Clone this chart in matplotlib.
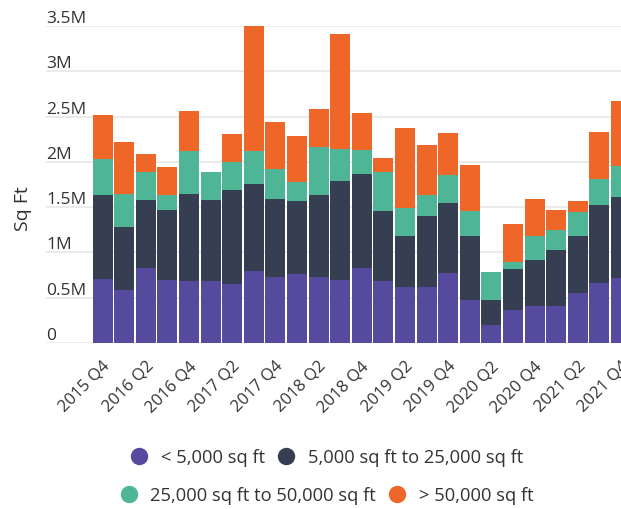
import numpy as np
import matplotlib.pyplot as plt
import matplotlib.transforms as mtransforms
from matplotlib.lines import Line2D

plt.rcParams['font.family'] = ['Open Sans', 'DejaVu Sans']

# Quarters from 2015 Q4 to 2021 Q4
quarters = ['2015 Q4',
            '2016 Q1', '2016 Q2', '2016 Q3', '2016 Q4',
            '2017 Q1', '2017 Q2', '2017 Q3', '2017 Q4',
            '2018 Q1', '2018 Q2', '2018 Q3', '2018 Q4',
            '2019 Q1', '2019 Q2', '2019 Q3', '2019 Q4',
            '2020 Q1', '2020 Q2', '2020 Q3', '2020 Q4',
            '2021 Q1', '2021 Q2', '2021 Q3', '2021 Q4']

# Values in million sq ft
small = [0.71, 0.585, 0.83, 0.695, 0.684, 0.684, 0.651, 0.795, 0.728, 0.762,
         0.728, 0.695, 0.828, 0.684, 0.618, 0.618, 0.773, 0.475, 0.20, 0.364,
         0.408, 0.408, 0.552, 0.662, 0.717]
medium = [0.92, 0.695, 0.75, 0.773, 0.96, 0.894, 1.038, 0.96, 0.861, 0.805,
          0.906, 1.093, 1.037, 0.773, 0.563, 0.784, 0.769, 0.706, 0.275, 0.453,
          0.508, 0.618, 0.629, 0.861, 0.894]
large = [0.40, 0.365, 0.31, 0.166, 0.475, 0.31, 0.309, 0.365, 0.331, 0.21,
         0.533, 0.353, 0.265, 0.43, 0.309, 0.232, 0.312, 0.276, 0.309, 0.077,
         0.265, 0.221, 0.265, 0.287, 0.343]
xlarge = [0.49, 0.575, 0.20, 0.309, 0.44, 0.0, 0.309, 1.38, 0.52, 0.508,
          0.416, 1.27, 0.409, 0.155, 0.883, 0.551, 0.464, 0.508, 0.0, 0.419,
          0.408, 0.221, 0.121, 0.519, 0.716]

series_names = ['< 5,000 sq ft', '5,000 sq ft to 25,000 sq ft',
                '25,000 sq ft to 50,000 sq ft', '> 50,000 sq ft']
colors = ['#554A9E', '#353F51', '#4EB596', '#EF6629']

ytick_vals = [0, 0.5, 1, 1.5, 2, 2.5, 3, 3.5]
ytick_labels = ['0', '0.5M', '1M', '1.5M', '2M', '2.5M', '3M', '3.5M']

fig = plt.figure(figsize=(6.21, 5.10), dpi=100)
ax = fig.add_axes([46 / 621, 166 / 510, 1 - 46 / 621, 317 / 510])

x = np.arange(len(quarters))
bottom = np.zeros(len(quarters))
for vals, c in zip([small, medium, large, xlarge], colors):
    ax.bar(x, vals, width=0.93, bottom=bottom, color=c, zorder=2)
    bottom += np.array(vals)

ax.set_xlim(-2.62, 23.88)
ax.set_ylim(0, 3.5)

# gridlines, labels sit above the lines
ax.set_yticks(ytick_vals)
ax.set_yticklabels(ytick_labels, ha='left', va='bottom', fontsize=12.5, color='#333333')
ax.tick_params(axis='y', length=0, pad=0)
ax.grid(axis='y', color='#e6e6e6', linewidth=1.1, zorder=0)
ax.set_axisbelow(True)

ax.set_xticks(x[::2])
ax.set_xticklabels(quarters[::2], rotation=45, ha='right', va='center',
                   rotation_mode='anchor', fontsize=12, color='#333333')
ax.tick_params(axis='x', length=0, pad=18)
shift = mtransforms.ScaledTranslation(0.05, 0.05, fig.dpi_scale_trans)
for lbl in ax.get_xticklabels():
    lbl.set_transform(lbl.get_transform() + shift)

for s in ax.spines.values():
    s.set_visible(False)

ax.set_ylabel('Sq Ft', fontsize=14, color='#333333')
ax.yaxis.set_label_coords(-0.024, 0.426)

# Legend in two centred rows
handles = [Line2D([], [], marker='o', linestyle='none', markersize=11.5,
                  markerfacecolor=c, markeredgecolor=c) for c in colors]
leg_kw = dict(loc='center', ncol=2, frameon=False, fontsize=13.2,
              handletextpad=0.72, columnspacing=0.72, handlelength=0.9,
              labelcolor='#333333')
leg1 = fig.legend(handles[:2], series_names[:2],
                  bbox_to_anchor=(327 / 621, 1 - 458 / 510), **leg_kw)
leg2 = fig.legend(handles[2:], series_names[2:],
                  bbox_to_anchor=(327 / 621, 1 - 496 / 510), **leg_kw)

fig.savefig('out.png', dpi=100)
